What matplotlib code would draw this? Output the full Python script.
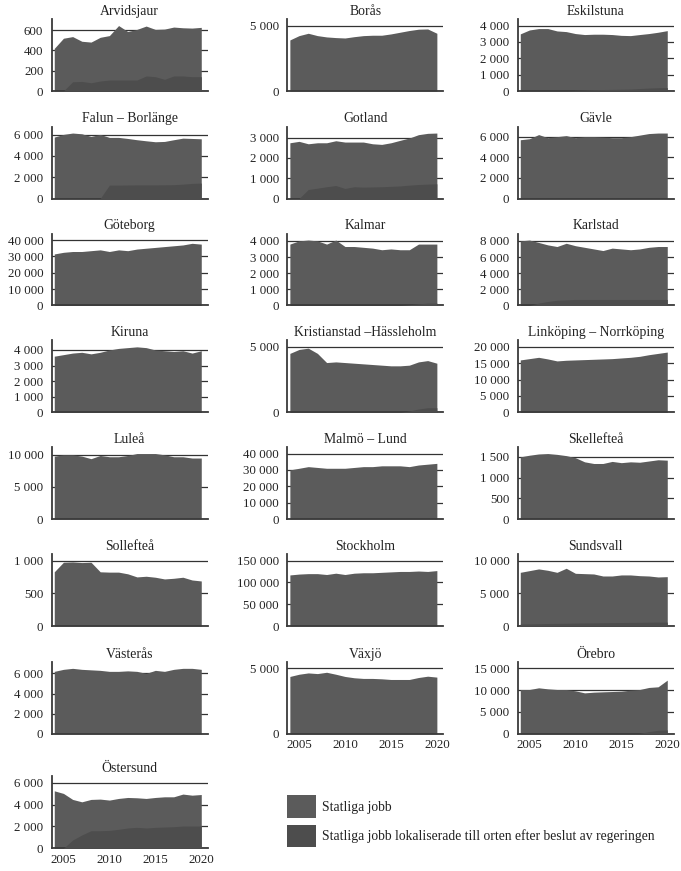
import matplotlib
matplotlib.use("Agg")
import matplotlib.pyplot as plt
from matplotlib.patches import Patch
import numpy as np

years = list(range(2004, 2021))

arvidsjaur_total = [420, 520, 536, 490, 482, 529, 546, 645, 586, 607, 640, 607, 610, 630, 623, 620, 627]
arvidsjaur_local = [0, 0, 91, 94, 81, 98, 108, 108, 108, 108, 148, 141, 115, 148, 148, 141, 141]
boras_total = [3900, 4230, 4410, 4230, 4130, 4080, 4050, 4150, 4230, 4260, 4260, 4360, 4490, 4620, 4720, 4740, 4410]
boras_local = [0] * 17
eskilstuna_total = [3490, 3730, 3815, 3815, 3670, 3630, 3510, 3450, 3470, 3470, 3450, 3400, 3385, 3450, 3510, 3590, 3690]
eskilstuna_local = [0, 0, 0, 0, 0, 0, 40, 60, 80, 90, 100, 110, 120, 150, 180, 200, 210]
falun_total = [5780, 6030, 6160, 6090, 5840, 6030, 5750, 5750, 5650, 5530, 5430, 5340, 5370, 5530, 5680, 5650, 5620]
falun_local = [0, 0, 0, 0, 0, 0, 1260, 1260, 1270, 1280, 1280, 1280, 1290, 1300, 1350, 1420, 1450]
gotland_total = [2750, 2820, 2700, 2750, 2750, 2850, 2785, 2785, 2785, 2700, 2670, 2750, 2870, 2985, 3150, 3215, 3230]
gotland_local = [0, 0, 445, 510, 580, 640, 495, 580, 560, 570, 580, 600, 620, 660, 690, 710, 725]
gavle_total = [5700, 5800, 6200, 5900, 6000, 6100, 5900, 6000, 6000, 5950, 5900, 5900, 6000, 6150, 6300, 6350, 6350]
gavle_local = [0] * 17
goteborg_total = [31500, 32500, 33000, 33000, 33500, 34000, 33000, 34000, 33500, 34500, 35000, 35500, 36000, 36500, 37000, 38000, 37500]
goteborg_local = [0] * 17
kalmar_total = [3800, 4000, 4050, 4000, 3800, 4050, 3650, 3650, 3600, 3550, 3450, 3500, 3450, 3450, 3800, 3800, 3800]
kalmar_local = [0, 0, 0, 0, 0, 0, 0, 0, 0, 0, 0, 0, 0, 50, 100, 150, 150]
karlstad_total = [8000, 8100, 7800, 7500, 7300, 7700, 7400, 7200, 7000, 6800, 7100, 7000, 6900, 7000, 7200, 7300, 7300]
karlstad_local = [0, 0, 300, 500, 650, 700, 750, 750, 750, 750, 750, 750, 750, 750, 750, 750, 750]
kiruna_total = [3600, 3700, 3800, 3850, 3750, 3850, 4000, 4100, 4150, 4200, 4150, 4000, 3950, 3900, 3950, 3800, 3950]
kiruna_local = [0] * 17
kristianstad_total = [4500, 4800, 4900, 4500, 3800, 3850, 3800, 3750, 3700, 3650, 3600, 3550, 3550, 3600, 3850, 3950, 3750]
kristianstad_local = [0, 0, 0, 0, 0, 0, 0, 0, 0, 0, 0, 0, 0, 100, 250, 350, 350]
linkoping_total = [16000, 16400, 16800, 16300, 15700, 15900, 16000, 16100, 16200, 16300, 16400, 16600, 16800, 17100, 17600, 18000, 18400]
linkoping_local = [0] * 17
lulea_total = [9800, 10000, 10000, 9800, 9400, 9900, 9700, 9700, 9900, 10200, 10200, 10200, 10000, 9700, 9700, 9500, 9500]
lulea_local = [0] * 17
malmo_total = [30000, 31000, 32000, 31500, 31000, 31000, 31000, 31500, 32000, 32000, 32500, 32500, 32500, 32000, 33000, 33500, 34000]
malmo_local = [0] * 17
skelleftea_total = [1500, 1540, 1570, 1580, 1560, 1530, 1480, 1380, 1340, 1340, 1390, 1360, 1380, 1370, 1400, 1430, 1420]
skelleftea_local = [0] * 17
solleftea_total = [828, 974, 979, 969, 974, 828, 823, 823, 797, 750, 760, 745, 719, 729, 745, 703, 688]
solleftea_local = [0] * 17
stockholm_total = [117000, 119000, 120000, 120000, 118000, 121000, 118000, 121000, 122000, 122000, 123000, 124000, 125000, 125000, 126000, 125000, 127000]
stockholm_local = [0] * 17
sundsvall_total = [8200, 8460, 8720, 8510, 8200, 8820, 8050, 8000, 7950, 7640, 7640, 7800, 7800, 7690, 7640, 7490, 7540]
sundsvall_local = [300, 320, 350, 380, 400, 420, 450, 470, 480, 500, 520, 530, 550, 560, 580, 600, 600]
vasteras_total = [6200, 6400, 6500, 6400, 6350, 6300, 6200, 6200, 6250, 6200, 6000, 6300, 6200, 6400, 6500, 6500, 6400]
vasteras_local = [0] * 17
vaxjo_total = [4380, 4550, 4650, 4600, 4700, 4550, 4380, 4280, 4230, 4230, 4200, 4150, 4150, 4150, 4300, 4400, 4330]
vaxjo_local = [0] * 17
orebro_total = [10150, 10150, 10540, 10300, 10150, 10150, 9850, 9380, 9540, 9620, 9690, 9770, 10000, 10150, 10620, 10770, 12300]
orebro_local = [0, 0, 0, 0, 0, 0, 0, 0, 0, 0, 0, 0, 0, 100, 500, 800, 900]
ostersund_total = [5270, 5030, 4480, 4260, 4480, 4510, 4420, 4570, 4660, 4630, 4570, 4660, 4720, 4720, 4970, 4870, 4930]
ostersund_local = [0, 0, 760, 1220, 1610, 1610, 1640, 1740, 1860, 1920, 1860, 1920, 1950, 1980, 2040, 2040, 2040]

titles = ["Arvidsjaur", "Borås", "Eskilstuna", "Falun – Borlänge", "Gotland", "Gävle",
          "Göteborg", "Kalmar", "Karlstad", "Kiruna", "Kristianstad –Hässleholm",
          "Linköping – Norrköping", "Luleå", "Malmö – Lund", "Skellefteå", "Sollefteå",
          "Stockholm", "Sundsvall", "Västerås", "Växjö", "Örebro", "Östersund"]
tick_steps = [200, 5000, 1000, 2000, 1000, 2000, 10000, 1000, 2000, 1000, 5000, 5000,
              5000, 10000, 500, 500, 50000, 5000, 2000, 5000, 5000, 2000]
tick_tops = [600, 5000, 4000, 6000, 3000, 6000, 40000, 4000, 8000, 4000, 5000, 20000,
             10000, 40000, 1500, 1000, 150000, 10000, 6000, 5000, 15000, 6000]
x_ticks = [2005, 2010, 2015, 2020]
legend_labels = ["Statliga jobb", "Statliga jobb lokaliserade till orten efter beslut av regeringen"]

totals = [arvidsjaur_total, boras_total, eskilstuna_total, falun_total, gotland_total, gavle_total,
          goteborg_total, kalmar_total, karlstad_total, kiruna_total, kristianstad_total,
          linkoping_total, lulea_total, malmo_total, skelleftea_total, solleftea_total,
          stockholm_total, sundsvall_total, vasteras_total, vaxjo_total, orebro_total, ostersund_total]
locals_ = [arvidsjaur_local, boras_local, eskilstuna_local, falun_local, gotland_local, gavle_local,
           goteborg_local, kalmar_local, karlstad_local, kiruna_local, kristianstad_local,
           linkoping_local, lulea_local, malmo_local, skelleftea_local, solleftea_local,
           stockholm_local, sundsvall_local, vasteras_local, vaxjo_local, orebro_local, ostersund_local]

plt.rcParams['font.family'] = ['Liberation Serif', 'DejaVu Serif']

C_TOTAL = "#5b5b5b"
C_LOCAL = "#4d4d4d"
C_GRID = "#333333"
C_SPINE = "#3a3a3a"

W, H = 681, 871
fig = plt.figure(figsize=(W / 100, H / 100), dpi=100)
col_x = [51.7, 287.3, 517.7]
row_y0 = [91, 198.5, 305.5, 412.3, 519, 626, 733.8, 848.3]
aw, ah = 156, 72
xlabel_panels = {19, 20, 21}


def fmt(v):
    return f"{int(v):,}".replace(",", " ")


for i, (title, tot, loc, step, ttop) in enumerate(zip(titles, totals, locals_, tick_steps, tick_tops)):
    r, c = divmod(i, 3)
    ax = fig.add_axes([col_x[c] / W, 1 - row_y0[r] / H, aw / W, ah / H])
    ax.fill_between(years, 0, tot, color=C_TOTAL, lw=0, zorder=2)
    if max(loc) > 0:
        ax.fill_between(years, 0, loc, color=C_LOCAL, lw=0, zorder=3)
    ticks = np.arange(0, ttop + 1, step)
    ax.set_yticks(ticks)
    ax.set_yticklabels([fmt(t) for t in ticks])
    ax.set_ylim(0, max(ttop, max(tot)) * 1.1)
    ax.set_xlim(2003.72, 2020.7)
    ax.set_xticks(x_ticks)
    if i in xlabel_panels:
        ax.set_xticklabels([str(x) for x in x_ticks])
    else:
        ax.set_xticklabels([])
    ax.tick_params(axis='both', length=0, labelsize=9.3, colors='#222222')
    ax.tick_params(axis='y', pad=6)
    ax.tick_params(axis='x', pad=4)
    ax.grid(axis='y', color=C_GRID, lw=0.9)
    ax.set_axisbelow(True)
    for s in ['top', 'right']:
        ax.spines[s].set_visible(False)
    for s in ['left', 'bottom']:
        ax.spines[s].set_color(C_SPINE)
        ax.spines[s].set_linewidth(1.3)
    ax.set_title(title, fontsize=9.9, pad=3, color='#222222')

handles = [Patch(facecolor=C_TOTAL, edgecolor='none'), Patch(facecolor=C_LOCAL, edgecolor='none')]
fig.legend(handles, legend_labels, loc='upper left', bbox_to_anchor=(287 / W, 1 - 795 / H),
           frameon=False, fontsize=9.8, handlelength=2.1, handleheight=2.2,
           handletextpad=0.5, labelspacing=0.5, borderpad=0, borderaxespad=0,
           labelcolor='#222222')

fig.savefig("out.png", dpi=100)
